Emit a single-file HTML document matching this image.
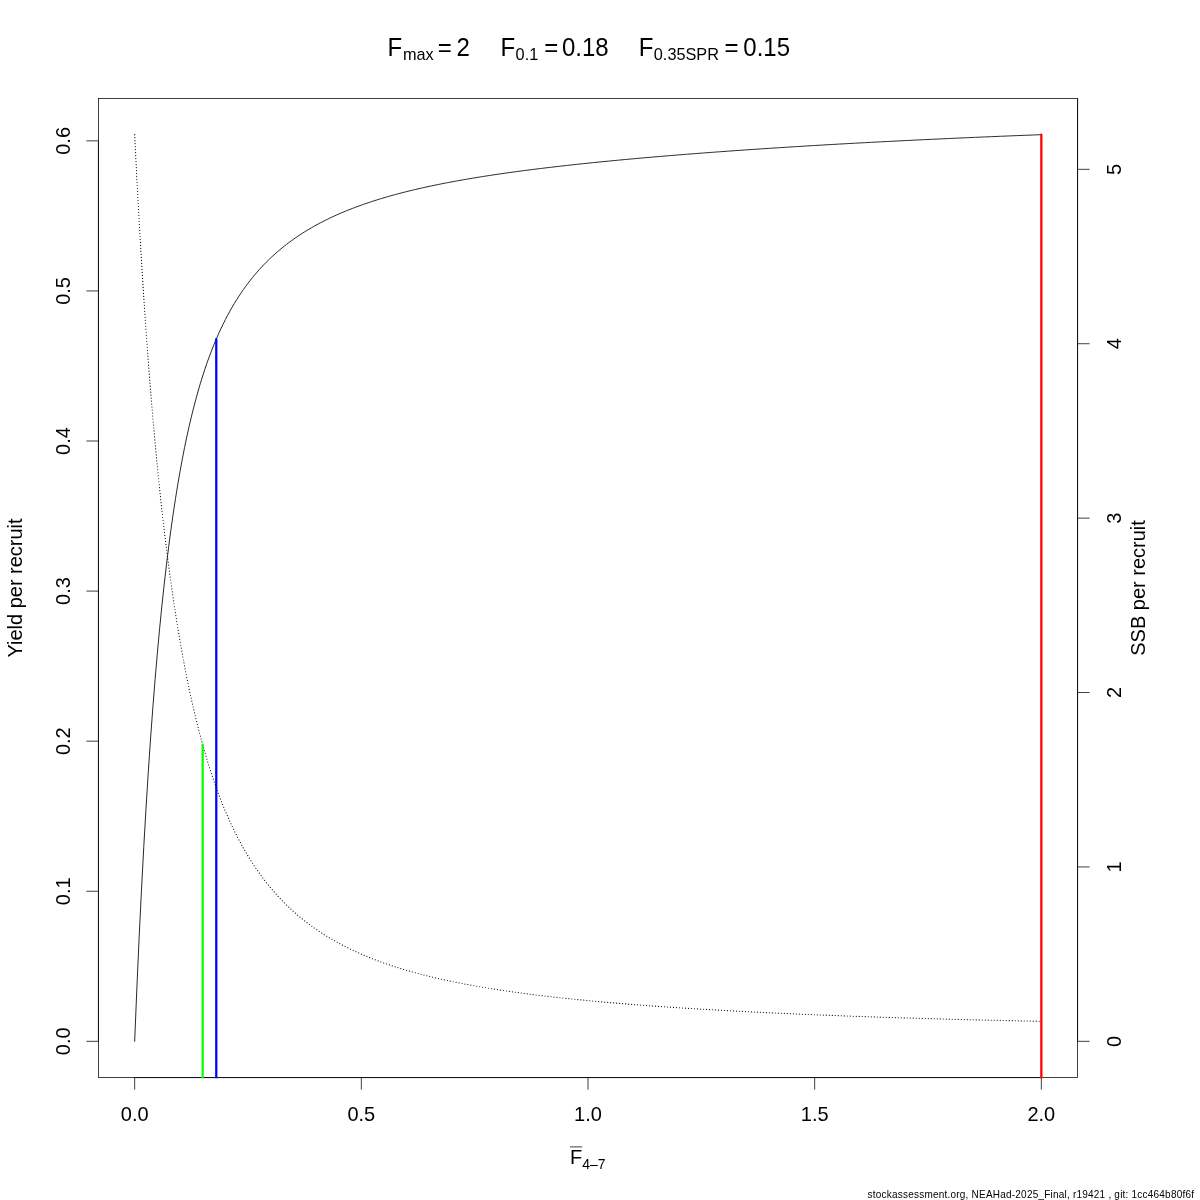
<!DOCTYPE html>
<html><head><meta charset="utf-8"><title>YPR</title>
<style>
html,body{margin:0;padding:0;background:#fff;}
body{width:1200px;height:1200px;overflow:hidden;}
svg{display:block;will-change:transform;}
text{font-family:"Liberation Sans",sans-serif;font-size:20px;fill:#000;}
.ln path,.ln rect{fill:none;stroke:#000;stroke-width:0.75;}
.t24{font-size:24px;} .t17{font-size:16.3px;} .t14{font-size:14px;} .t10{font-size:10px;}
</style></head><body>
<svg width="1200" height="1200" viewBox="0 0 1200 1200">
<rect width="1200" height="1200" fill="#fff"/>
<defs><clipPath id="cp"><rect x="98.4" y="98.4" width="979.1999999999999" height="979.9"/></clipPath></defs>
<g class="ln">
<rect x="98.4" y="98.4" width="979.1999999999999" height="979.1999999999999"/>
<path d="M134.67,1077.6 L1041.33,1077.6"/>
<path d="M134.67,1077.6 L134.67,1089.6"/>
<path d="M361.33,1077.6 L361.33,1089.6"/>
<path d="M588.00,1077.6 L588.00,1089.6"/>
<path d="M814.67,1077.6 L814.67,1089.6"/>
<path d="M1041.33,1077.6 L1041.33,1089.6"/>
<path d="M98.4,1041.33 L98.4,140.85"/>
<path d="M98.4,1041.33 L86.4,1041.33"/>
<path d="M98.4,891.25 L86.4,891.25"/>
<path d="M98.4,741.17 L86.4,741.17"/>
<path d="M98.4,591.09 L86.4,591.09"/>
<path d="M98.4,441.01 L86.4,441.01"/>
<path d="M98.4,290.93 L86.4,290.93"/>
<path d="M98.4,140.85 L86.4,140.85"/>
</g>
<g clip-path="url(#cp)" fill="none">
<path d="M134.67,1041.33 L136.93,986.51 L139.20,936.28 L141.47,890.12 L143.73,847.64 L146.00,808.49 L148.27,772.39 L150.53,739.05 L152.80,708.23 L155.07,679.71 L157.33,653.28 L159.60,628.77 L161.87,606.01 L164.13,584.86 L166.40,565.16 L168.67,546.81 L170.93,529.69 L173.20,513.70 L175.47,498.74 L177.73,484.74 L180.00,471.62 L182.27,459.30 L184.53,447.73 L186.80,436.85 L189.07,426.60 L191.33,416.93 L193.60,407.81 L195.87,399.19 L198.13,391.04 L200.40,383.31 L202.67,375.99 L204.93,369.05 L207.20,362.45 L209.47,356.17 L211.73,350.20 L214.00,344.51 L216.27,339.08 L218.53,333.90 L220.80,328.95 L223.07,324.22 L225.33,319.69 L227.60,315.35 L229.87,311.19 L232.13,307.20 L234.40,303.37 L236.67,299.69 L238.93,296.15 L241.20,292.75 L243.47,289.47 L245.73,286.31 L248.00,283.27 L250.27,280.33 L252.53,277.49 L254.80,274.75 L257.07,272.11 L259.33,269.55 L261.60,267.08 L263.87,264.68 L266.13,262.36 L268.40,260.11 L270.67,257.94 L272.93,255.82 L275.20,253.78 L277.47,251.79 L279.73,249.86 L282.00,247.98 L284.27,246.16 L286.53,244.39 L288.80,242.67 L291.07,240.99 L293.33,239.36 L295.60,237.78 L297.87,236.23 L300.13,234.73 L302.40,233.26 L304.67,231.83 L306.93,230.44 L309.20,229.08 L311.47,227.76 L313.73,226.46 L316.00,225.20 L318.27,223.97 L320.53,222.77 L322.80,221.59 L325.07,220.44 L327.33,219.32 L329.60,218.23 L331.87,217.15 L334.13,216.10 L336.40,215.08 L338.67,214.08 L340.93,213.09 L343.20,212.13 L345.47,211.19 L347.73,210.27 L350.00,209.37 L352.27,208.48 L354.53,207.62 L356.80,206.77 L359.07,205.94 L361.33,205.12 L363.60,204.32 L365.87,203.54 L368.13,202.77 L370.40,202.01 L372.67,201.27 L374.93,200.54 L377.20,199.83 L379.47,199.13 L381.73,198.44 L384.00,197.76 L386.27,197.10 L388.53,196.44 L390.80,195.80 L393.07,195.17 L395.33,194.55 L397.60,193.94 L399.87,193.34 L402.13,192.75 L404.40,192.17 L406.67,191.60 L408.93,191.04 L411.20,190.49 L413.47,189.94 L415.73,189.41 L418.00,188.88 L420.27,188.36 L422.53,187.85 L424.80,187.34 L427.07,186.85 L429.33,186.36 L431.60,185.88 L433.87,185.40 L436.13,184.93 L438.40,184.47 L440.67,184.01 L442.93,183.56 L445.20,183.12 L447.47,182.68 L449.73,182.25 L452.00,181.83 L454.27,181.40 L456.53,180.99 L458.80,180.58 L461.07,180.18 L463.33,179.78 L465.60,179.38 L467.87,178.99 L470.13,178.61 L472.40,178.23 L474.67,177.85 L476.93,177.48 L479.20,177.11 L481.47,176.75 L483.73,176.39 L486.00,176.03 L488.27,175.68 L490.53,175.34 L492.80,174.99 L495.07,174.65 L497.33,174.32 L499.60,173.99 L501.87,173.66 L504.13,173.33 L506.40,173.01 L508.67,172.69 L510.93,172.37 L513.20,172.06 L515.47,171.75 L517.73,171.45 L520.00,171.14 L522.27,170.84 L524.53,170.54 L526.80,170.25 L529.07,169.96 L531.33,169.67 L533.60,169.38 L535.87,169.10 L538.13,168.82 L540.40,168.54 L542.67,168.26 L544.93,167.98 L547.20,167.71 L549.47,167.44 L551.73,167.18 L554.00,166.91 L556.27,166.65 L558.53,166.39 L560.80,166.13 L563.07,165.87 L565.33,165.62 L567.60,165.36 L569.87,165.11 L572.13,164.86 L574.40,164.62 L576.67,164.37 L578.93,164.13 L581.20,163.89 L583.47,163.65 L585.73,163.41 L588.00,163.18 L590.27,162.94 L592.53,162.71 L594.80,162.48 L597.07,162.25 L599.33,162.02 L601.60,161.79 L603.87,161.57 L606.13,161.35 L608.40,161.13 L610.67,160.91 L612.93,160.69 L615.20,160.47 L617.47,160.25 L619.73,160.04 L622.00,159.83 L624.27,159.62 L626.53,159.41 L628.80,159.20 L631.07,158.99 L633.33,158.78 L635.60,158.58 L637.87,158.38 L640.13,158.17 L642.40,157.97 L644.67,157.77 L646.93,157.57 L649.20,157.38 L651.47,157.18 L653.73,156.99 L656.00,156.79 L658.27,156.60 L660.53,156.41 L662.80,156.22 L665.07,156.03 L667.33,155.84 L669.60,155.65 L671.87,155.47 L674.13,155.28 L676.40,155.10 L678.67,154.91 L680.93,154.73 L683.20,154.55 L685.47,154.37 L687.73,154.19 L690.00,154.01 L692.27,153.84 L694.53,153.66 L696.80,153.49 L699.07,153.31 L701.33,153.14 L703.60,152.97 L705.87,152.80 L708.13,152.62 L710.40,152.46 L712.67,152.29 L714.93,152.12 L717.20,151.95 L719.47,151.79 L721.73,151.62 L724.00,151.46 L726.27,151.29 L728.53,151.13 L730.80,150.97 L733.07,150.81 L735.33,150.65 L737.60,150.49 L739.87,150.33 L742.13,150.17 L744.40,150.01 L746.67,149.86 L748.93,149.70 L751.20,149.55 L753.47,149.39 L755.73,149.24 L758.00,149.09 L760.27,148.94 L762.53,148.79 L764.80,148.64 L767.07,148.49 L769.33,148.34 L771.60,148.19 L773.87,148.04 L776.13,147.90 L778.40,147.75 L780.67,147.61 L782.93,147.46 L785.20,147.32 L787.47,147.17 L789.73,147.03 L792.00,146.89 L794.27,146.75 L796.53,146.61 L798.80,146.47 L801.07,146.33 L803.33,146.19 L805.60,146.05 L807.87,145.92 L810.13,145.78 L812.40,145.65 L814.67,145.51 L816.93,145.38 L819.20,145.24 L821.47,145.11 L823.73,144.98 L826.00,144.84 L828.27,144.71 L830.53,144.58 L832.80,144.45 L835.07,144.32 L837.33,144.19 L839.60,144.06 L841.87,143.94 L844.13,143.81 L846.40,143.68 L848.67,143.56 L850.93,143.43 L853.20,143.31 L855.47,143.18 L857.73,143.06 L860.00,142.93 L862.27,142.81 L864.53,142.69 L866.80,142.57 L869.07,142.45 L871.33,142.33 L873.60,142.21 L875.87,142.09 L878.13,141.97 L880.40,141.85 L882.67,141.73 L884.93,141.62 L887.20,141.50 L889.47,141.38 L891.73,141.27 L894.00,141.15 L896.27,141.04 L898.53,140.92 L900.80,140.81 L903.07,140.70 L905.33,140.58 L907.60,140.47 L909.87,140.36 L912.13,140.25 L914.40,140.14 L916.67,140.03 L918.93,139.92 L921.20,139.81 L923.47,139.70 L925.73,139.59 L928.00,139.49 L930.27,139.38 L932.53,139.27 L934.80,139.17 L937.07,139.06 L939.33,138.96 L941.60,138.85 L943.87,138.75 L946.13,138.64 L948.40,138.54 L950.67,138.44 L952.93,138.33 L955.20,138.23 L957.47,138.13 L959.73,138.03 L962.00,137.93 L964.27,137.83 L966.53,137.73 L968.80,137.63 L971.07,137.53 L973.33,137.43 L975.60,137.33 L977.87,137.24 L980.13,137.14 L982.40,137.04 L984.67,136.95 L986.93,136.85 L989.20,136.75 L991.47,136.66 L993.73,136.56 L996.00,136.47 L998.27,136.38 L1000.53,136.28 L1002.80,136.19 L1005.07,136.10 L1007.33,136.00 L1009.60,135.91 L1011.87,135.82 L1014.13,135.73 L1016.40,135.64 L1018.67,135.55 L1020.93,135.46 L1023.20,135.37 L1025.47,135.28 L1027.73,135.19 L1030.00,135.11 L1032.27,135.02 L1034.53,134.93 L1036.80,134.84 L1039.07,134.76 L1041.33,134.67" stroke="#000" stroke-width="0.85" stroke-linejoin="round" stroke-linecap="round"/>
<path d="M1041.33,1200 V134.67" stroke="#ff0000" stroke-width="2.25" stroke-linecap="round"/>
<path d="M216.27,1200 V339.08" stroke="#0000ff" stroke-width="2.25" stroke-linecap="round"/>
<path d="M134.67,134.60 L136.93,180.07 L139.20,221.98 L141.47,260.72 L143.73,296.63 L146.00,329.99 L148.27,361.05 L150.53,390.02 L152.80,417.11 L155.07,442.48 L157.33,466.27 L159.60,488.62 L161.87,509.65 L164.13,529.46 L166.40,548.15 L168.67,565.80 L170.93,582.49 L173.20,598.28 L175.47,613.24 L177.73,627.42 L180.00,640.89 L182.27,653.68 L184.53,665.84 L186.80,677.41 L189.07,688.42 L191.33,698.92 L193.60,708.92 L195.87,718.47 L198.13,727.59 L200.40,736.30 L202.67,744.63 L204.93,752.60 L207.20,760.23 L209.47,767.54 L211.73,774.54 L214.00,781.25 L216.27,787.70 L218.53,793.88 L220.80,799.82 L223.07,805.53 L225.33,811.02 L227.60,816.30 L229.87,821.38 L232.13,826.27 L234.40,830.99 L236.67,835.54 L238.93,839.92 L241.20,844.15 L243.47,848.23 L245.73,852.17 L248.00,855.98 L250.27,859.66 L252.53,863.21 L254.80,866.65 L257.07,869.98 L259.33,873.21 L261.60,876.33 L263.87,879.35 L266.13,882.28 L268.40,885.12 L270.67,887.87 L272.93,890.54 L275.20,893.14 L277.47,895.65 L279.73,898.10 L282.00,900.47 L284.27,902.78 L286.53,905.02 L288.80,907.20 L291.07,909.31 L293.33,911.38 L295.60,913.38 L297.87,915.33 L300.13,917.23 L302.40,919.08 L304.67,920.88 L306.93,922.64 L309.20,924.35 L311.47,926.01 L313.73,927.64 L316.00,929.22 L318.27,930.77 L320.53,932.28 L322.80,933.75 L325.07,935.18 L327.33,936.58 L329.60,937.95 L331.87,939.29 L334.13,940.59 L336.40,941.87 L338.67,943.11 L340.93,944.33 L343.20,945.52 L345.47,946.68 L347.73,947.82 L350.00,948.93 L352.27,950.02 L354.53,951.08 L356.80,952.12 L359.07,953.14 L361.33,954.14 L363.60,955.12 L365.87,956.07 L368.13,957.01 L370.40,957.92 L372.67,958.82 L374.93,959.70 L377.20,960.56 L379.47,961.41 L381.73,962.23 L384.00,963.04 L386.27,963.84 L388.53,964.62 L390.80,965.38 L393.07,966.13 L395.33,966.87 L397.60,967.59 L399.87,968.30 L402.13,968.99 L404.40,969.67 L406.67,970.34 L408.93,971.00 L411.20,971.64 L413.47,972.28 L415.73,972.90 L418.00,973.51 L420.27,974.11 L422.53,974.70 L424.80,975.28 L427.07,975.85 L429.33,976.41 L431.60,976.96 L433.87,977.50 L436.13,978.03 L438.40,978.56 L440.67,979.07 L442.93,979.58 L445.20,980.07 L447.47,980.56 L449.73,981.04 L452.00,981.52 L454.27,981.98 L456.53,982.44 L458.80,982.89 L461.07,983.34 L463.33,983.78 L465.60,984.21 L467.87,984.63 L470.13,985.05 L472.40,985.46 L474.67,985.87 L476.93,986.27 L479.20,986.66 L481.47,987.05 L483.73,987.43 L486.00,987.81 L488.27,988.18 L490.53,988.55 L492.80,988.91 L495.07,989.27 L497.33,989.62 L499.60,989.97 L501.87,990.31 L504.13,990.65 L506.40,990.98 L508.67,991.31 L510.93,991.63 L513.20,991.95 L515.47,992.27 L517.73,992.58 L520.00,992.89 L522.27,993.19 L524.53,993.49 L526.80,993.79 L529.07,994.08 L531.33,994.37 L533.60,994.65 L535.87,994.93 L538.13,995.21 L540.40,995.49 L542.67,995.76 L544.93,996.03 L547.20,996.29 L549.47,996.55 L551.73,996.81 L554.00,997.07 L556.27,997.32 L558.53,997.57 L560.80,997.82 L563.07,998.06 L565.33,998.30 L567.60,998.54 L569.87,998.78 L572.13,999.01 L574.40,999.24 L576.67,999.47 L578.93,999.70 L581.20,999.92 L583.47,1000.14 L585.73,1000.36 L588.00,1000.58 L590.27,1000.79 L592.53,1001.01 L594.80,1001.22 L597.07,1001.42 L599.33,1001.63 L601.60,1001.83 L603.87,1002.04 L606.13,1002.24 L608.40,1002.43 L610.67,1002.63 L612.93,1002.82 L615.20,1003.01 L617.47,1003.20 L619.73,1003.39 L622.00,1003.58 L624.27,1003.76 L626.53,1003.95 L628.80,1004.13 L631.07,1004.31 L633.33,1004.48 L635.60,1004.66 L637.87,1004.83 L640.13,1005.01 L642.40,1005.18 L644.67,1005.35 L646.93,1005.51 L649.20,1005.68 L651.47,1005.85 L653.73,1006.01 L656.00,1006.17 L658.27,1006.33 L660.53,1006.49 L662.80,1006.65 L665.07,1006.80 L667.33,1006.96 L669.60,1007.11 L671.87,1007.26 L674.13,1007.42 L676.40,1007.57 L678.67,1007.71 L680.93,1007.86 L683.20,1008.01 L685.47,1008.15 L687.73,1008.29 L690.00,1008.44 L692.27,1008.58 L694.53,1008.72 L696.80,1008.86 L699.07,1008.99 L701.33,1009.13 L703.60,1009.26 L705.87,1009.40 L708.13,1009.53 L710.40,1009.66 L712.67,1009.79 L714.93,1009.92 L717.20,1010.05 L719.47,1010.18 L721.73,1010.31 L724.00,1010.43 L726.27,1010.56 L728.53,1010.68 L730.80,1010.80 L733.07,1010.92 L735.33,1011.04 L737.60,1011.16 L739.87,1011.28 L742.13,1011.40 L744.40,1011.52 L746.67,1011.63 L748.93,1011.75 L751.20,1011.86 L753.47,1011.98 L755.73,1012.09 L758.00,1012.20 L760.27,1012.31 L762.53,1012.42 L764.80,1012.53 L767.07,1012.64 L769.33,1012.74 L771.60,1012.85 L773.87,1012.96 L776.13,1013.06 L778.40,1013.17 L780.67,1013.27 L782.93,1013.37 L785.20,1013.47 L787.47,1013.57 L789.73,1013.67 L792.00,1013.77 L794.27,1013.87 L796.53,1013.97 L798.80,1014.07 L801.07,1014.16 L803.33,1014.26 L805.60,1014.36 L807.87,1014.45 L810.13,1014.54 L812.40,1014.64 L814.67,1014.73 L816.93,1014.82 L819.20,1014.91 L821.47,1015.00 L823.73,1015.09 L826.00,1015.18 L828.27,1015.27 L830.53,1015.36 L832.80,1015.44 L835.07,1015.53 L837.33,1015.62 L839.60,1015.70 L841.87,1015.79 L844.13,1015.87 L846.40,1015.95 L848.67,1016.04 L850.93,1016.12 L853.20,1016.20 L855.47,1016.28 L857.73,1016.36 L860.00,1016.44 L862.27,1016.52 L864.53,1016.60 L866.80,1016.68 L869.07,1016.75 L871.33,1016.83 L873.60,1016.91 L875.87,1016.98 L878.13,1017.06 L880.40,1017.13 L882.67,1017.21 L884.93,1017.28 L887.20,1017.36 L889.47,1017.43 L891.73,1017.50 L894.00,1017.57 L896.27,1017.64 L898.53,1017.71 L900.80,1017.78 L903.07,1017.85 L905.33,1017.92 L907.60,1017.99 L909.87,1018.06 L912.13,1018.13 L914.40,1018.20 L916.67,1018.26 L918.93,1018.33 L921.20,1018.39 L923.47,1018.46 L925.73,1018.53 L928.00,1018.59 L930.27,1018.65 L932.53,1018.72 L934.80,1018.78 L937.07,1018.84 L939.33,1018.91 L941.60,1018.97 L943.87,1019.03 L946.13,1019.09 L948.40,1019.15 L950.67,1019.21 L952.93,1019.27 L955.20,1019.33 L957.47,1019.39 L959.73,1019.45 L962.00,1019.51 L964.27,1019.56 L966.53,1019.62 L968.80,1019.68 L971.07,1019.73 L973.33,1019.79 L975.60,1019.85 L977.87,1019.90 L980.13,1019.96 L982.40,1020.01 L984.67,1020.06 L986.93,1020.12 L989.20,1020.17 L991.47,1020.22 L993.73,1020.28 L996.00,1020.33 L998.27,1020.38 L1000.53,1020.43 L1002.80,1020.48 L1005.07,1020.54 L1007.33,1020.59 L1009.60,1020.64 L1011.87,1020.69 L1014.13,1020.74 L1016.40,1020.78 L1018.67,1020.83 L1020.93,1020.88 L1023.20,1020.93 L1025.47,1020.98 L1027.73,1021.03 L1030.00,1021.07 L1032.27,1021.12 L1034.53,1021.17 L1036.80,1021.21 L1039.07,1021.26 L1041.33,1021.30" stroke="#000" stroke-width="1.15" stroke-dasharray="0.01 2.99" stroke-linejoin="round" stroke-linecap="round"/>
<path d="M202.67,1200 V744.63" stroke="#00ff00" stroke-width="2.25" stroke-linecap="round"/>
</g>
<g class="ln">
<path d="M1077.6,1041.33 L1077.6,98.4"/>
<path d="M1077.6,1041.33 L1089.6,1041.33"/>
<path d="M1077.6,866.93 L1089.6,866.93"/>
<path d="M1077.6,692.53 L1089.6,692.53"/>
<path d="M1077.6,518.13 L1089.6,518.13"/>
<path d="M1077.6,343.73 L1089.6,343.73"/>
<path d="M1077.6,169.33 L1089.6,169.33"/>
</g>
<text transform="translate(134.67,1120.7) scale(1,1.04)" text-anchor="middle">0.0</text>
<text transform="translate(361.33,1120.7) scale(1,1.04)" text-anchor="middle">0.5</text>
<text transform="translate(588.00,1120.7) scale(1,1.04)" text-anchor="middle">1.0</text>
<text transform="translate(814.67,1120.7) scale(1,1.04)" text-anchor="middle">1.5</text>
<text transform="translate(1041.33,1120.7) scale(1,1.04)" text-anchor="middle">2.0</text>
<text transform="translate(70,1041.33) rotate(-90) scale(1,1.04)" text-anchor="middle">0.0</text>
<text transform="translate(70,891.25) rotate(-90) scale(1,1.04)" text-anchor="middle">0.1</text>
<text transform="translate(70,741.17) rotate(-90) scale(1,1.04)" text-anchor="middle">0.2</text>
<text transform="translate(70,591.09) rotate(-90) scale(1,1.04)" text-anchor="middle">0.3</text>
<text transform="translate(70,441.01) rotate(-90) scale(1,1.04)" text-anchor="middle">0.4</text>
<text transform="translate(70,290.93) rotate(-90) scale(1,1.04)" text-anchor="middle">0.5</text>
<text transform="translate(70,140.85) rotate(-90) scale(1,1.04)" text-anchor="middle">0.6</text>
<text transform="translate(1121.4,1041.33) rotate(-90) scale(1,1.04)" text-anchor="middle">0</text>
<text transform="translate(1121.4,866.93) rotate(-90) scale(1,1.04)" text-anchor="middle">1</text>
<text transform="translate(1121.4,692.53) rotate(-90) scale(1,1.04)" text-anchor="middle">2</text>
<text transform="translate(1121.4,518.13) rotate(-90) scale(1,1.04)" text-anchor="middle">3</text>
<text transform="translate(1121.4,343.73) rotate(-90) scale(1,1.04)" text-anchor="middle">4</text>
<text transform="translate(1121.4,169.33) rotate(-90) scale(1,1.04)" text-anchor="middle">5</text>
<text transform="translate(22,588) rotate(-90) scale(1,1.04)" text-anchor="middle">Yield per recruit</text>
<text transform="translate(1145.2,588) rotate(-90) scale(1,1.04)" text-anchor="middle">SSB per recruit</text>
<g class="t24">
<text transform="translate(387.55,56) scale(1,1.04)" class="t24">F</text><text transform="translate(402.9,59.9) scale(1,1.04)" class="t17">max</text><text transform="translate(437.8,56) scale(1,1.04)" class="t24">=</text><text transform="translate(456.6,56) scale(1,1.04)" class="t24">2</text>
<text transform="translate(500.4,56) scale(1,1.04)" class="t24">F</text><text transform="translate(515.6,59.9) scale(1,1.04)" class="t17">0.1</text><text transform="translate(544.3,56) scale(1,1.04)" class="t24">=</text><text transform="translate(562,56) scale(1,1.04)" class="t24">0.18</text>
<text transform="translate(638.7,56) scale(1,1.04)" class="t24">F</text><text transform="translate(653.8,59.9) scale(1,1.04)" class="t17">0.35SPR</text><text transform="translate(724.5,56) scale(1,1.04)" class="t24">=</text><text transform="translate(743.3,56) scale(1,1.04)" class="t24">0.15</text>
</g>
<text transform="translate(570.1,1164.3) scale(1,1.04)">F</text><text transform="translate(582.3,1168.8) scale(1,1.04)" class="t14">4–7</text>
<path d="M570,1146.9 H582.2" stroke="#000" stroke-width="0.75" fill="none"/>
<text transform="translate(867.6,1198) scale(1,1.04)" class="t10" letter-spacing="0.222">stockassessment.org, NEAHad-2025_Final, r19421 , git: 1cc464b80f6f</text>
</svg>
</body></html>
